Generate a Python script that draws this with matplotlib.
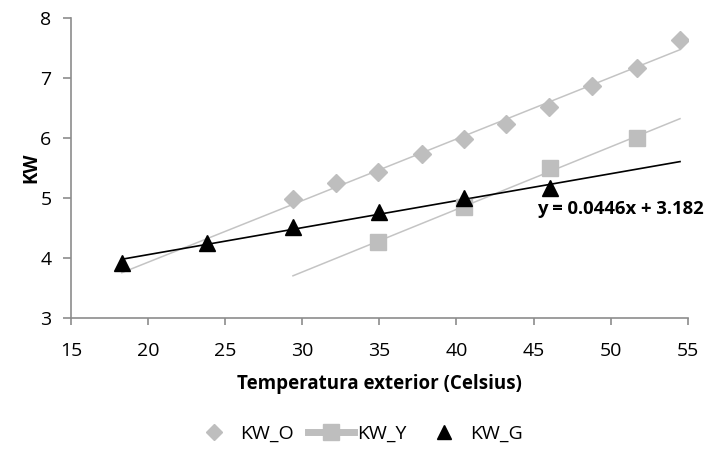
import numpy as np
import matplotlib
matplotlib.use("Agg")
from matplotlib import pyplot as plt
from matplotlib.lines import Line2D

plt.rcParams['font.family'] = ['Open Sans', 'DejaVu Sans']

# data
temp_o = [29.4, 32.2, 34.9, 37.8, 40.5, 43.2, 46.0, 48.8, 51.7, 54.5]
kw_o = [4.98, 5.25, 5.43, 5.73, 5.98, 6.23, 6.52, 6.87, 7.17, 7.63]
temp_y = [34.9, 40.5, 46.1, 51.7]
kw_y = [4.27, 4.85, 5.50, 6.00]
temp_g = [18.3, 23.8, 29.4, 35.0, 40.5, 46.1]
kw_g = [3.92, 4.25, 4.52, 4.77, 5.00, 5.17]

# ranges the trend lines are drawn over
trend_o = [18.3, 54.5]
trend_y = [29.4, 54.5]
trend_g = [18.3, 54.5]

gray = "#BEBEBE"
lgray = "#C4C4C4"

fig = plt.figure(figsize=(7.09, 4.5), dpi=100)
ax = fig.add_axes([0.100, 0.293, 0.870, 0.667])

def trend(x, y, rng, color, lw):
    a, b = np.polyfit(x, y, 1)
    xs = np.array(rng)
    ax.plot(xs, a * xs + b, color=color, lw=lw, zorder=2)

trend(temp_o, kw_o, trend_o, lgray, 1.1)
trend(temp_y, kw_y, trend_y, lgray, 1.1)
trend(temp_g, kw_g, trend_g, "black", 1.2)

ax.plot(temp_o, kw_o, ls="none", marker="D", ms=9, color=gray, zorder=3)
ax.plot(temp_y, kw_y, ls="none", marker="s", ms=12, color=gray, zorder=3)
ax.plot(temp_g, kw_g, ls="none", marker="^", ms=12, color="black", zorder=4)

ax.text(45.2, 4.81, "y = 0.0446x + 3.182", fontsize=13.3, fontweight="bold",
        va="center", ha="left", color="black")

ax.set_xlim(15, 55)
ax.set_ylim(3, 8)
ax.set_xticks(range(15, 60, 5))
ax.set_yticks(range(3, 9))
for s in ["top", "right"]:
    ax.spines[s].set_visible(False)
for s in ["left", "bottom"]:
    ax.spines[s].set_color("#8C8C8C")
    ax.spines[s].set_linewidth(1.2)
ax.tick_params(axis="y", direction="out", length=6, color="#8C8C8C", width=1.2,
               labelsize=14, pad=8)
ax.tick_params(axis="x", direction="out", length=5, color="#8C8C8C", width=1.2,
               labelsize=14, pad=12)

ax.set_xlabel("Temperatura exterior (Celsius)", fontsize=13.5, fontweight="bold", labelpad=10)
ax.set_ylabel("KW", fontsize=13.5, fontweight="bold", labelpad=-1)

handles = [
    Line2D([], [], ls="none", marker="D", ms=8, color=gray),
    Line2D([], [], ls="-", lw=5, marker="s", ms=11, color=gray),
    Line2D([], [], ls="none", marker="^", ms=10, color="black"),
]
fig.legend(handles, ["KW_O", "KW_Y", "KW_G"], loc="center", bbox_to_anchor=(0.503, 0.035),
           ncol=3, frameon=False, fontsize=14, handlelength=2.4, handletextpad=0.15,
           columnspacing=0.7)

fig.savefig("out.png", dpi=100)
